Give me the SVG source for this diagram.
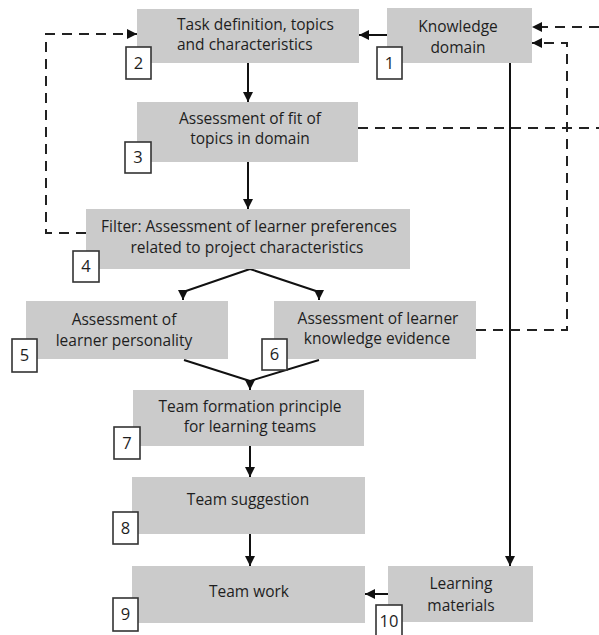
<svg xmlns="http://www.w3.org/2000/svg" width="599" height="635" viewBox="0 0 599 635">
<defs>
<marker id="ah" viewBox="0 0 10 10" refX="10" refY="5" markerWidth="10" markerHeight="10" markerUnits="userSpaceOnUse" orient="auto">
<path d="M0,0 L10,5 L0,10 Z" fill="#111"/>
</marker>
<style>
.box{fill:#cbcbcb;}
.lbl{fill:#fff;stroke:#333;stroke-width:1.6;}
.t{font-family:"Open Sans","Liberation Sans",sans-serif;font-size:15.5px;fill:#1e1e1e;text-anchor:middle;}
.n{font-family:"Open Sans","Liberation Sans",sans-serif;font-size:16.5px;fill:#1e1e1e;text-anchor:middle;}
.s{fill:none;stroke:#111;stroke-width:2;}
.d{fill:none;stroke:#222;stroke-width:2;stroke-dasharray:10 7;}
</style>
</defs>
<rect width="599" height="635" fill="#fff"/>
<g id="connectors">
<path class="s" d="M387,35 L359,35" marker-end="url(#ah)"/>
<path class="s" d="M248,63 L248,102" marker-end="url(#ah)"/>
<path class="s" d="M248,162 L248,209" marker-end="url(#ah)"/>
<path class="s" d="M250,269 L183,292 L183,300" marker-end="url(#ah)"/>
<path class="s" d="M250,269 L319,292 L319,300" marker-end="url(#ah)"/>
<path class="s" d="M184,360 L250,381"/>
<path class="s" d="M319,360 L250,381 L250,390" marker-end="url(#ah)"/>
<path class="s" d="M250,446 L250,477" marker-end="url(#ah)"/>
<path class="s" d="M250,534 L250,566" marker-end="url(#ah)"/>
<path class="s" d="M388,594 L365,594" marker-end="url(#ah)"/>
<path class="s" d="M510,63 L510,566" marker-end="url(#ah)"/>
<path class="d" d="M86,233 L46,233 L46,34 L137,34" marker-end="url(#ah)"/>
<path class="d" d="M358,128 L599,128"/>
<path class="d" d="M599,27 L532,27" marker-end="url(#ah)"/>
<path class="d" d="M476,330 L567,330 L567,43 L532,43" marker-end="url(#ah)"/>
</g>
<g id="n1">
<rect class="box" x="387" y="8" width="145" height="55"/>
<text class="t" x="458" y="32">Knowledge</text>
<text class="t" x="458" y="53">domain</text>
<rect class="lbl" x="377" y="47" width="25" height="32"/>
<text class="n" x="389.5" y="69">1</text>
</g>
<g id="n2">
<rect class="box" x="137" y="9" width="222" height="54"/>
<text class="t" x="177" y="30" style="text-anchor:start">Task definition, topics</text>
<text class="t" x="177" y="50" style="text-anchor:start">and characteristics</text>
<rect class="lbl" x="126" y="47" width="25" height="32"/>
<text class="n" x="138.5" y="69">2</text>
</g>
<g id="n3">
<rect class="box" x="137" y="102" width="221" height="60"/>
<text class="t" x="250" y="124">Assessment of fit of</text>
<text class="t" x="250" y="144">topics in domain</text>
<rect class="lbl" x="125" y="142" width="26" height="31"/>
<text class="n" x="138" y="163">3</text>
</g>
<g id="n4">
<rect class="box" x="86" y="209" width="324" height="60"/>
<text class="t" x="249" y="232">Filter: Assessment of learner preferences</text>
<text class="t" x="247" y="253">related to project characteristics</text>
<rect class="lbl" x="73" y="251" width="26" height="31"/>
<text class="n" x="86" y="272">4</text>
</g>
<g id="n5">
<rect class="box" x="26" y="301" width="202" height="58"/>
<text class="t" x="124" y="325">Assessment of</text>
<text class="t" x="124" y="346">learner personality</text>
<rect class="lbl" x="12" y="339" width="25" height="33"/>
<text class="n" x="24.5" y="361">5</text>
</g>
<g id="n6">
<rect class="box" x="274" y="301" width="202" height="58"/>
<text class="t" x="378" y="324">Assessment of learner</text>
<text class="t" x="377" y="344">knowledge evidence</text>
<rect class="lbl" x="262" y="339" width="25" height="31"/>
<text class="n" x="274.5" y="360">6</text>
</g>
<g id="n7">
<rect class="box" x="133" y="390" width="231" height="56"/>
<text class="t" x="250" y="412">Team formation principle</text>
<text class="t" x="250" y="432">for learning teams</text>
<rect class="lbl" x="114" y="427" width="26" height="32"/>
<text class="n" x="127" y="449">7</text>
</g>
<g id="n8">
<rect class="box" x="132" y="477" width="233" height="57"/>
<text class="t" x="248" y="505">Team suggestion</text>
<rect class="lbl" x="113" y="512" width="25" height="32"/>
<text class="n" x="125.5" y="534">8</text>
</g>
<g id="n9">
<rect class="box" x="132" y="566" width="233" height="57"/>
<text class="t" x="249" y="597">Team work</text>
<rect class="lbl" x="113" y="598" width="25" height="33"/>
<text class="n" x="125.5" y="620">9</text>
</g>
<g id="n10">
<rect class="box" x="388" y="566" width="145" height="56"/>
<text class="t" x="461" y="589">Learning</text>
<text class="t" x="461" y="611">materials</text>
<rect class="lbl" x="376" y="605" width="26" height="33"/>
<text class="n" x="389" y="627">10</text>
</g>
</svg>
